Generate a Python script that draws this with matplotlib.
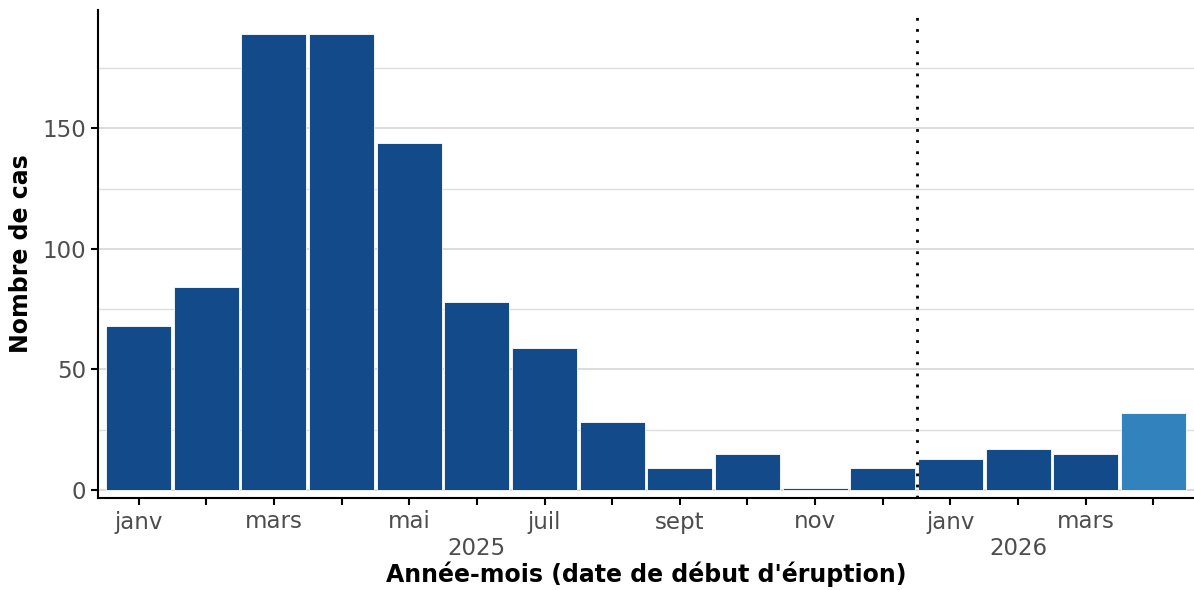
import numpy as np
import matplotlib.pyplot as plt
import matplotlib.transforms as mtransforms

# cas par mois (date de début d'éruption), janv 2025 -> avril 2026
mois = ["2025-01", "2025-02", "2025-03", "2025-04", "2025-05", "2025-06",
        "2025-07", "2025-08", "2025-09", "2025-10", "2025-11", "2025-12",
        "2026-01", "2026-02", "2026-03", "2026-04"]
cas = [68, 84, 189, 189, 144, 78, 59, 28, 9, 15, 1, 9, 13, 17, 15, 32]
incomplet = [False] * 15 + [True]  # dernier mois : données partielles

mois_labels = ["janv", "", "mars", "", "mai", "", "juil", "", "sept", "", "nov", "",
               "janv", "", "mars", ""]
annees = ["2025", "2026"]
annee_pos = [5.0, 13.0]

col_ok = "#134B8A"
col_partiel = "#3282BD"

plt.rcParams['font.family'] = ['DejaVu Sans']

fig = plt.figure(figsize=(11.94, 5.90), dpi=100)
ax = fig.add_axes([98 / 1194, 92 / 590, 1 - 98 / 1194, 488 / 590])

x = np.arange(len(mois))
couleurs = [col_partiel if p else col_ok for p in incomplet]
ax.bar(x, cas, width=0.96, color=couleurs, edgecolor="white", linewidth=0.6, zorder=2)

# séparation 2025 / 2026
ax.axvline(11.5, color="black", linestyle=(0, (1, 3)), linewidth=2, zorder=3)

ax.set_xlim(-0.6, 15.6)
ax.set_ylim(-3.3, 199)

ax.set_yticks([0, 50, 100, 150])
ax.set_yticks([25, 75, 125, 175], minor=True)
ax.grid(axis="y", which="major", color="#d9d9d9", linewidth=1.3, zorder=0)
ax.grid(axis="y", which="minor", color="#dedede", linewidth=1.0, zorder=0)
ax.tick_params(axis="y", which="minor", length=0)

ax.set_xticks(x)
ax.set_xticklabels(mois_labels)
ax.tick_params(axis="both", which="major", length=5, width=1.5, color="black",
               labelsize=16.5, labelcolor="#4d4d4d")
ax.tick_params(axis="x", pad=4)

trans = mtransforms.blended_transform_factory(ax.transData, ax.transAxes)
for pos, a in zip(annee_pos, annees):
    ax.text(pos, -0.079, a, transform=trans, ha="center", va="top",
            fontsize=16.5, color="#4d4d4d")

for s in ["top", "right"]:
    ax.spines[s].set_visible(False)
for s in ["left", "bottom"]:
    ax.spines[s].set_linewidth(1.5)

ax.set_xlabel("Année-mois (date de début d'éruption)", fontsize=17,
              fontweight="bold", labelpad=20)
ax.set_ylabel("Nombre de cas", fontsize=17, fontweight="bold", labelpad=7)

fig.savefig("out.png", dpi=100)
